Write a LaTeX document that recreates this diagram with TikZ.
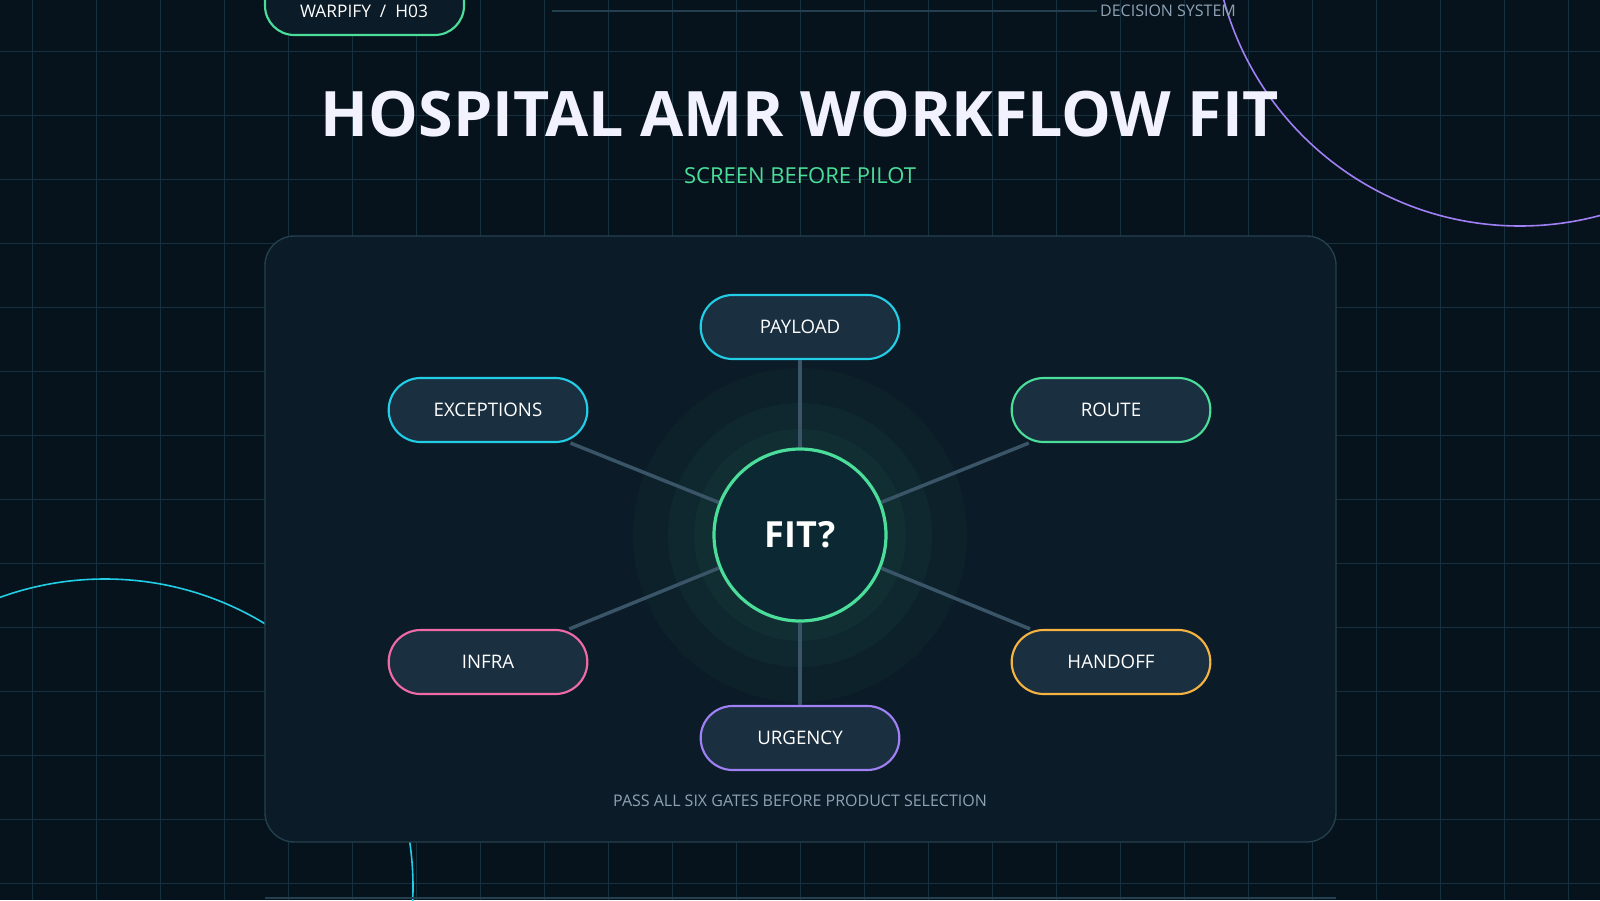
\documentclass[tikz,border=0pt]{standalone}
\usepackage{fontspec}
\setmainfont{Open Sans}
\usetikzlibrary{positioning}
\definecolor{bgdark}{HTML}{07131C}
\definecolor{gridline}{HTML}{16303D}
\definecolor{panelfill}{HTML}{0B1B27}
\definecolor{panelline}{HTML}{24404F}
\definecolor{pillfill}{HTML}{1A2F40}
\definecolor{hubfill}{HTML}{0C2833}
\definecolor{spoke}{HTML}{3A5568}
\definecolor{mint}{HTML}{4ADE9A}
\definecolor{aqua}{HTML}{22CDE6}
\definecolor{rose}{HTML}{F06AA8}
\definecolor{amber}{HTML}{F5B342}
\definecolor{lilac}{HTML}{A080F5}
\definecolor{mutedtext}{HTML}{8FA3B5}
\tikzset{
  gate/.style={draw=#1, line width=1.6pt, fill=pillfill, rounded corners=24pt,
    minimum width=149pt, minimum height=48pt, text=white, font=\fontsize{14}{16}\selectfont},
  spokeline/.style={draw=spoke, line width=2.6pt}
}
\begin{document}
\begin{tikzpicture}[x=0.75pt, y=-0.75pt]
    % Background and grid
    \fill[bgdark] (0,0) rectangle (1600,900);
    \useasboundingbox (0,0) rectangle (1600,900);
    \foreach \gx in {32,96,...,1600} \draw[gridline, line width=0.6pt] (\gx,0) -- (\gx,900);
    \foreach \gy in {51,115,...,900} \draw[gridline, line width=0.6pt] (0,\gy) -- (1600,\gy);

    % Decorative arcs
    \draw[lilac, line width=1.2pt] (1520,-81) circle (307);
    \draw[aqua, line width=1.2pt] (105,887) circle (308);

    % Header
    \draw[mint, line width=1.6pt, fill=panelfill, rounded corners=22pt] (265,-40) rectangle (464,35);
    \node[text=white, font=\fontsize{13}{15}\selectfont] (tag) at (364,11) {WARPIFY \ / \ H03};
    \draw[panelline, line width=1pt] (552,11) -- (1097,11);
    \node[text=mutedtext, font=\fontsize{12}{14}\selectfont] (system) at (1168,11) {DECISION SYSTEM};
    \node[text=white!95!blue, font=\bfseries\fontsize{47}{54}\selectfont] (title) at (800,114) {HOSPITAL AMR WORKFLOW FIT};
    \node[text=mint, font=\fontsize{16.5}{19}\selectfont] (subtitle) at (800,176) {SCREEN BEFORE PILOT};

    % Panel
    \draw[panelline, line width=1pt, fill=panelfill, rounded corners=22pt] (265,236) rectangle (1336,842);
    \draw[panelline, line width=1pt] (265,898) -- (1336,898);

    % Glow rings
    \fill[mint, opacity=0.035] (800,535) circle (167);
    \fill[mint, opacity=0.035] (800,535) circle (132);
    \fill[mint, opacity=0.04] (800,535) circle (106);

    % Gates
    \node[gate=aqua] (payload) at (800,327) {PAYLOAD};
    \node[gate=aqua] (exceptions) at (488,410) {EXCEPTIONS};
    \node[gate=mint] (route) at (1111,410) {ROUTE};
    \node[gate=rose] (infra) at (488,662) {INFRA};
    \node[gate=amber] (handoff) at (1111,662) {HANDOFF};
    \node[gate=lilac] (urgency) at (800,738) {URGENCY};

    % Hub
    \node[circle, draw=mint, line width=2.4pt, fill=hubfill, minimum size=129pt,
      text=white, font=\bfseries\fontsize{27}{30}\selectfont] (fit) at (800,535) {FIT?};

    % Spokes
    \foreach \g in {payload,exceptions,route,infra,handoff,urgency}
        \draw[spokeline] (fit) -- (\g);

    \node[text=mutedtext, font=\fontsize{12}{14}\selectfont] (footer) at (800,801) {PASS ALL SIX GATES BEFORE PRODUCT SELECTION};
\end{tikzpicture}
\end{document}
